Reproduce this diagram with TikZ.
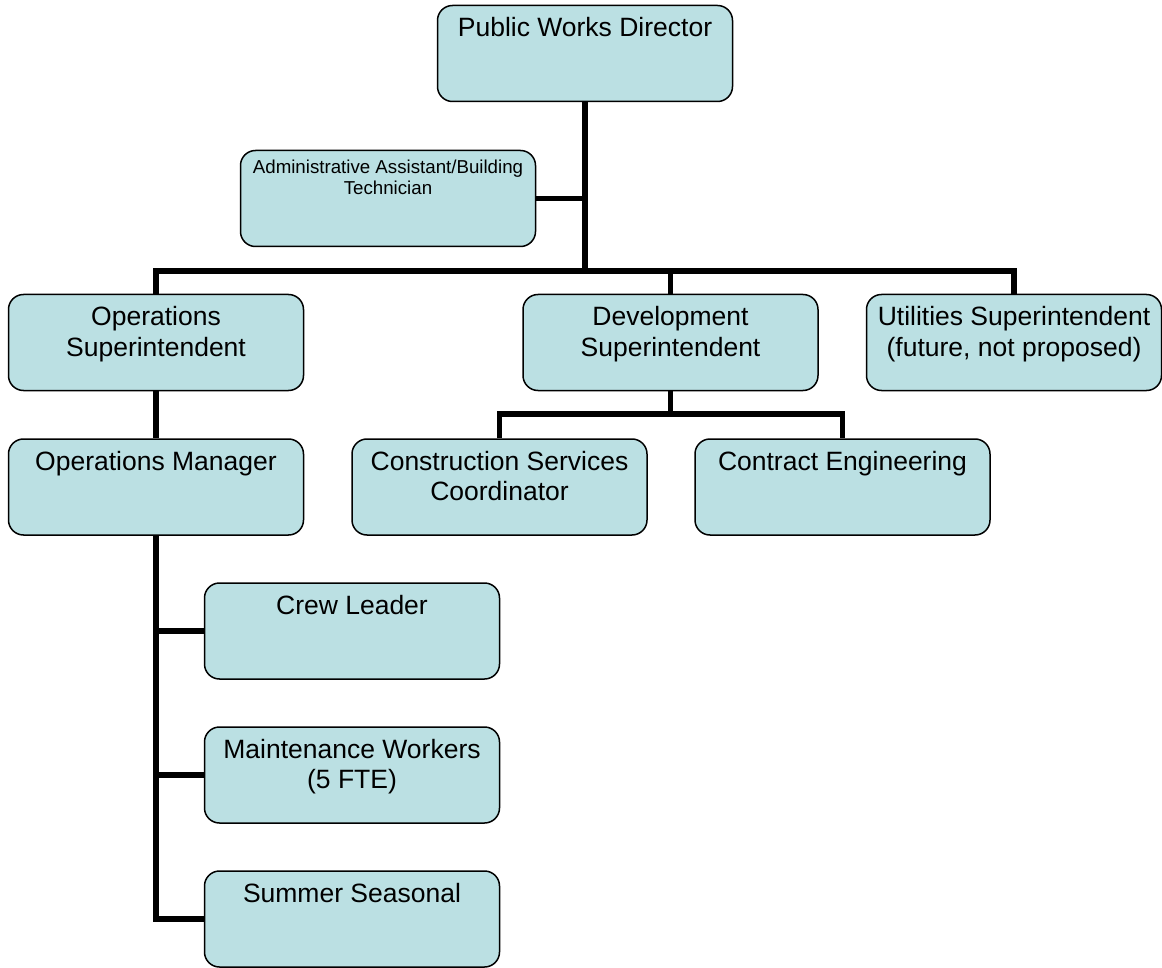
\documentclass[tikz,border=0pt]{standalone}
\usepackage{fontspec}
\setmainfont{Liberation Sans}
\definecolor{cardfill}{RGB}{187,224,227}
% text block set at the top of a fixed-height card
\newcommand\cardbody[2]{\parbox[c][96pt][t]{292pt}{\centering\vspace*{#1}\strut #2\strut}}
\begin{document}
\begin{tikzpicture}[x=1pt,y=-1pt,
  card/.style={draw=black, line width=1.5pt, fill=cardfill, rounded corners=15pt,
    inner sep=0pt, minimum width=295pt, minimum height=96pt,
    font=\fontsize{26.5}{30.5}\selectfont},
  cardsmall/.style={card, font=\fontsize{18.7}{21}\selectfont},
  link/.style={draw=black, line width=5.5pt}]
\useasboundingbox (0,0) rectangle (1162,968);

% positions
\node[card] (dir) at (585,53.5) {\cardbody{9.65pt}{Public Works Director}};
\node[cardsmall] (admin) at (388,198.5) {\cardbody{8.3pt}{Administrative Assistant/Building\\Technician}};
\node[card] (opsup) at (156,342.5) {\cardbody{9.65pt}{Operations\\Superintendent}};
\node[card] (dev) at (670.5,342.5) {\cardbody{9.65pt}{Development\\Superintendent}};
\node[card] (util) at (1014,342.5) {\cardbody{9.65pt}{Utilities Superintendent\\(future, not proposed)}};
\node[card] (opsmgr) at (156,487) {\cardbody{9.65pt}{Operations Manager}};
\node[card] (constr) at (499.5,487) {\cardbody{9.65pt}{Construction Services\\Coordinator}};
\node[card] (contract) at (842.5,487) {\cardbody{9.65pt}{Contract Engineering}};
\node[card] (crew) at (352,631) {\cardbody{9.65pt}{Crew Leader}};
\node[card] (maint) at (352,775) {\cardbody{9.65pt}{Maintenance Workers\\(5 FTE)}};
\node[card] (summer) at (352,919) {\cardbody{9.65pt}{Summer Seasonal}};

% reporting lines
\coordinate (bus) at (585,271);
\coordinate (devbus) at (670.5,414);
\draw[link] (dir.south) -- (dir.south |- bus);
\draw[link] (admin.east) -- (admin.east -| dir.south);
\draw[link] (opsup.north) -- (opsup.north |- bus) -- (util.north |- bus) -- (util.north);
\draw[link] (dev.north) -- (dev.north |- bus);
\draw[link] (dev.south) -- (dev.south |- devbus);
\draw[link] (constr.north) -- (constr.north |- devbus) -- (contract.north |- devbus) -- (contract.north);
\draw[link] (opsup.south) -- (opsmgr.north);
\draw[link] (opsmgr.south) -- (opsmgr.south |- summer.west) -- (summer.west);
\draw[link] (crew.west -| opsmgr.south) -- (crew.west);
\draw[link] (maint.west -| opsmgr.south) -- (maint.west);
\end{tikzpicture}
\end{document}
